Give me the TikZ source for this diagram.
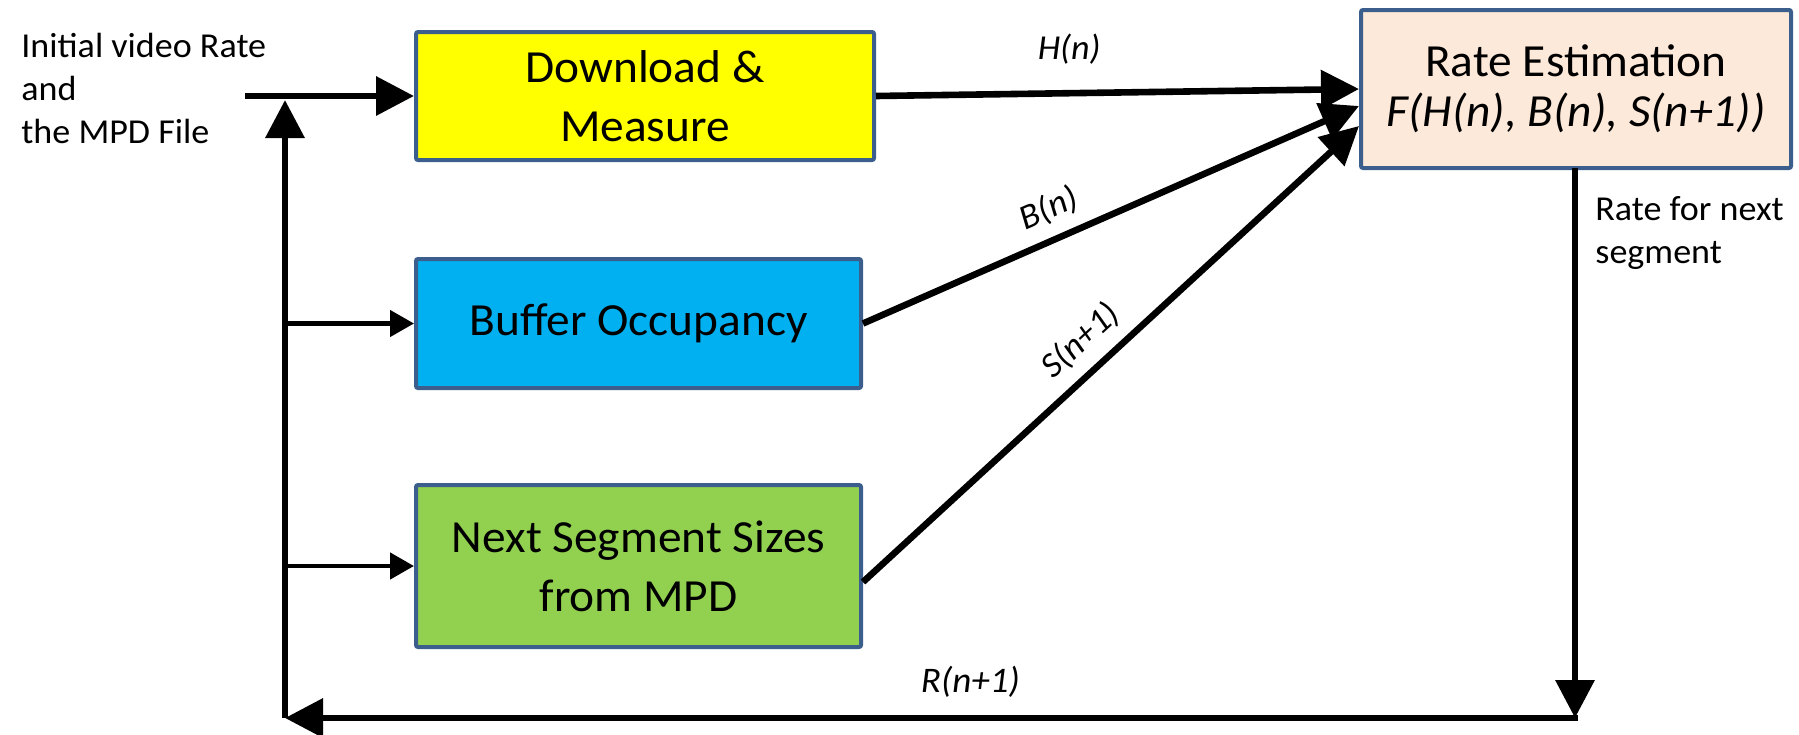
\documentclass[tikz,border=0pt]{standalone}
\usepackage{fontspec}
\setmainfont[FakeStretch=1.03]{Carlito}
\usetikzlibrary{arrows.meta,calc}
\definecolor{boxedge}{HTML}{3B5E8C}
\definecolor{cyellow}{HTML}{FFFF00}
\definecolor{cblue}{HTML}{00B0F0}
\definecolor{cgreen}{HTML}{92D050}
\definecolor{cpeach}{HTML}{FDE9D9}
\tikzset{
  blockbox/.style={draw=boxedge, line width=2pt, rounded corners=1pt, inner sep=0pt, align=center,
    font=\fontsize{23}{29.5}\selectfont},
  bigarrow/.style={line width=3.3pt, -{Triangle[length=19pt,width=19pt]}},
  thinarrow/.style={line width=2.3pt, -{Triangle[length=12pt,width=13pt]}},
  lbl/.style={font=\fontsize{17.5}{21.5}\selectfont\itshape, inner sep=0pt},
  txt/.style={font=\fontsize{17.5}{21.5}\selectfont, inner sep=0pt, align=left}
}
\begin{document}
\begin{tikzpicture}[x=0.5pt,y=-0.5pt]
\useasboundingbox (0,0) rectangle (1799,734);
% boxes
\node[blockbox, fill=cyellow, minimum width=229pt, minimum height=64pt] (dl) at (645,96) {Download \&\\Measure};
\node[blockbox, fill=cblue, minimum width=222.5pt, minimum height=64.5pt] (buf) at (638.5,323.5) {Buffer Occupancy};
\node[blockbox, fill=cgreen, minimum width=222.5pt, minimum height=81pt] (nxt) at (638.5,566) {Next Segment Sizes\\from MPD};
\node[blockbox, fill=cpeach, minimum width=215pt, minimum height=79pt, font=\fontsize{23}{25}\selectfont] (rate) at (1576,89) {Rate Estimation\\\itshape F(H(n), B(n), S(n+1))};
% texts
\node[txt, anchor=west] (init) at (21,88.5) {Initial video Rate\\and\\the MPD File};
\node[txt, anchor=west] (rfn) at (1595,233.5) {Rate for next\\segment};
% coordinates
\coordinate (in) at (245,96);
\coordinate (jt) at (285,100);
\coordinate (bl) at (285,718);
\coordinate (br) at (1575,718);
\coordinate (rb) at (1575,168);
\coordinate (j1) at (285,323.5);
\coordinate (j2) at (285,566);
% connectors
\draw[bigarrow] (in) -- (dl.west);
\draw[bigarrow] (bl) -- (jt);
\draw[thinarrow] (j1) -- (buf.west);
\draw[thinarrow] (j2) -- (nxt.west);
\draw[bigarrow] (dl.east) -- (rate.west) node[lbl, pos=0.4, above=13pt] (hl) {H(n)};
\draw[bigarrow] (buf.east) -- ([yshift=-8.5pt]rate.west) node[lbl, pos=0.4, above=6pt, sloped] (bnl) {B(n)};
\draw[bigarrow] ([yshift=-8pt]nxt.east) -- ([yshift=-18.5pt]rate.west) node[lbl, pos=0.48, above=6pt, sloped] (snl) {S(n+1)};
\draw[bigarrow] (rb) -- (br);
\draw[bigarrow] ([xshift=1.65pt]br) -- (bl) node[lbl, font=\fontsize{18}{20}\selectfont\itshape, pos=0.47, above=8.5pt] (rl) {R(n+1)};
\end{tikzpicture}
\end{document}
